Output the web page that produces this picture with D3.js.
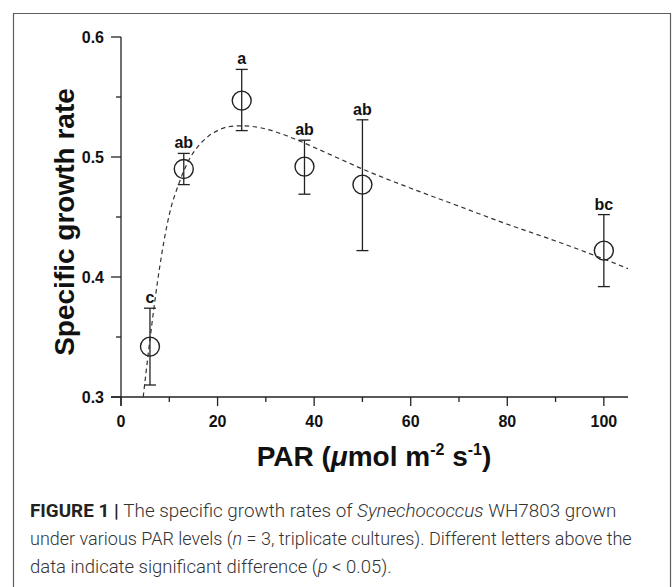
<!DOCTYPE html>
<html>
<head>
<meta charset="utf-8">
<script src="https://cdn.jsdelivr.net/npm/d3@7"></script>
<style>
  body { margin: 0; background: #fff; }
  svg { display: block; }
</style>
</head>
<body>
<div id="chart"></div>
<script>
// data
const parLevels = [6, 13, 25, 38, 50, 100];
const rateMean = [0.342, 0.490, 0.547, 0.492, 0.477, 0.422];
const rateHigh = [0.374, 0.503, 0.573, 0.514, 0.531, 0.452];
const rateLow = [0.310, 0.477, 0.522, 0.469, 0.422, 0.392];
const groupLetters = ['c', 'ab', 'a', 'ab', 'ab', 'bc'];

// fitted curve
const fitPar = [4.6, 6, 8, 10, 12, 14, 16, 18, 20, 22, 25, 28, 32, 36, 40, 45, 50, 60, 70, 80, 90, 100, 105];
const fitRate = [0.300, 0.348, 0.408, 0.452, 0.478, 0.497, 0.509, 0.517, 0.522, 0.525, 0.526, 0.525, 0.521, 0.515, 0.508, 0.499, 0.490, 0.474, 0.459, 0.444, 0.430, 0.415, 0.407];

const xTicks = [0, 20, 40, 60, 80, 100];
const xMinor = [10, 30, 50, 70, 90];
const yTicks = [0.3, 0.4, 0.5, 0.6];
const yMinor = [0.35, 0.45, 0.55];

const svgWidth = 672;
const svgHeight = 587;

const svg = d3.select('#chart')
    .append('svg')
    .attr('width', svgWidth)
    .attr('height', svgHeight);

// outer frame of the figure box (open at the bottom)
svg.append('path')
    .attr('d', 'M13.5,600 V13.5 H670.5 V600')
    .attr('fill', 'none')
    .attr('stroke', '#5e5e5e')
    .attr('stroke-width', 1.2);

const xScale = d3.scaleLinear()
    .domain([0, 105])
    .range([121, 628]);

const yScale = d3.scaleLinear()
    .domain([0.3, 0.6])
    .range([397, 37]);

const axisColor = '#222';
const tickFont = 'bold 16px "Liberation Sans", Arial, sans-serif';

// x axis
const xAxis = svg.append('g')
    .attr('transform', `translate(0, ${yScale(0.3)})`);
xAxis.append('line')
    .attr('x1', xScale(0) - 10).attr('x2', xScale(105))
    .attr('stroke', axisColor).attr('stroke-width', 1.3);
xAxis.selectAll('.major')
    .data(xTicks)
    .enter()
    .append('line')
    .attr('x1', d => xScale(d)).attr('x2', d => xScale(d))
    .attr('y1', 0).attr('y2', 9)
    .attr('stroke', axisColor).attr('stroke-width', 1.3);
xAxis.selectAll('.minor')
    .data(xMinor)
    .enter()
    .append('line')
    .attr('x1', d => xScale(d)).attr('x2', d => xScale(d))
    .attr('y1', 0).attr('y2', 5)
    .attr('stroke', axisColor).attr('stroke-width', 1.3);
xAxis.selectAll('text')
    .data(xTicks)
    .enter()
    .append('text')
    .attr('x', d => xScale(d))
    .attr('y', 30)
    .attr('text-anchor', 'middle')
    .style('font', tickFont)
    .attr('fill', '#111')
    .text(d => d);

// y axis
const yAxis = svg.append('g')
    .attr('transform', `translate(${xScale(0)}, 0)`);
yAxis.append('line')
    .attr('y1', yScale(0.6)).attr('y2', yScale(0.3) + 9)
    .attr('stroke', axisColor).attr('stroke-width', 1.3);
yAxis.selectAll('.major')
    .data(yTicks)
    .enter()
    .append('line')
    .attr('x1', -10).attr('x2', 0)
    .attr('y1', d => yScale(d)).attr('y2', d => yScale(d))
    .attr('stroke', axisColor).attr('stroke-width', 1.3);
yAxis.selectAll('.minor')
    .data(yMinor)
    .enter()
    .append('line')
    .attr('x1', -5).attr('x2', 0)
    .attr('y1', d => yScale(d)).attr('y2', d => yScale(d))
    .attr('stroke', axisColor).attr('stroke-width', 1.3);
yAxis.selectAll('text')
    .data(yTicks)
    .enter()
    .append('text')
    .attr('x', -17)
    .attr('y', d => yScale(d) + 6)
    .attr('text-anchor', 'end')
    .style('font', tickFont)
    .attr('fill', '#111')
    .text(d => d.toFixed(1));

// axis titles
svg.append('text')
    .attr('transform', 'translate(74, 222) rotate(-90)')
    .attr('text-anchor', 'middle')
    .style('font', 'bold 28px "Liberation Sans", Arial, sans-serif')
    .attr('fill', '#111')
    .text('Specific growth rate');

const xTitle = svg.append('text')
    .attr('x', 374)
    .attr('y', 466)
    .attr('text-anchor', 'middle')
    .style('font', 'bold 28px "Liberation Sans", Arial, sans-serif')
    .attr('fill', '#111');
xTitle.append('tspan').text('PAR (');
xTitle.append('tspan').attr('font-style', 'italic').text('\u03bc');
xTitle.append('tspan').text('mol m');
xTitle.append('tspan').attr('dy', -11).attr('font-size', 16).text('-2');
xTitle.append('tspan').attr('dy', 11).text(' s');
xTitle.append('tspan').attr('dy', -11).attr('font-size', 16).text('-1');
xTitle.append('tspan').attr('dy', 11).text(')');

// fitted dashed curve
const line = d3.line()
    .x(d => xScale(d[0]))
    .y(d => yScale(d[1]))
    .curve(d3.curveMonotoneX);

svg.append('path')
    .datum(d3.zip(fitPar, fitRate))
    .attr('d', line)
    .attr('fill', 'none')
    .attr('stroke', '#333')
    .attr('stroke-width', 1.2)
    .attr('stroke-dasharray', '4.5,3.5');

// error bars, points and letters
const points = parLevels.map((p, i) => ({
    par: p, mean: rateMean[i], high: rateHigh[i], low: rateLow[i], letter: groupLetters[i]
}));

const bars = svg.append('g');
bars.selectAll('.stem')
    .data(points)
    .enter()
    .append('line')
    .attr('x1', d => xScale(d.par)).attr('x2', d => xScale(d.par))
    .attr('y1', d => yScale(d.high)).attr('y2', d => yScale(d.low))
    .attr('stroke', axisColor).attr('stroke-width', 1.3);
['high', 'low'].forEach(k => {
    bars.selectAll('.cap-' + k)
        .data(points)
        .enter()
        .append('line')
        .attr('x1', d => xScale(d.par) - 6).attr('x2', d => xScale(d.par) + 6)
        .attr('y1', d => yScale(d[k])).attr('y2', d => yScale(d[k]))
        .attr('stroke', axisColor).attr('stroke-width', 1.3);
});

svg.selectAll('.pt')
    .data(points)
    .enter()
    .append('circle')
    .attr('cx', d => xScale(d.par))
    .attr('cy', d => yScale(d.mean))
    .attr('r', 9.5)
    .attr('fill', 'none')
    .attr('stroke', axisColor)
    .attr('stroke-width', 1.4);

svg.selectAll('.letter')
    .data(points)
    .enter()
    .append('text')
    .attr('x', d => xScale(d.par))
    .attr('y', d => yScale(d.high) - 5)
    .attr('text-anchor', 'middle')
    .style('font', tickFont)
    .attr('fill', '#111')
    .text(d => d.letter);

// caption: each line squeezed horizontally to the width it has in the figure
const cap = svg.append('g')
    .style('font-family', 'Roboto, "Liberation Sans Narrow", sans-serif')
    .style('font-size', '19px')
    .style('font-weight', 300)
    .attr('fill', '#333');

function captionLine(y, width, parts) {
    const t = cap.append('text').attr('x', 0).attr('y', 0);
    parts.forEach(p => {
        const s = t.append('tspan').text(p.text);
        if (p.bold) s.attr('font-weight', 'bold').attr('fill', '#222');
        if (p.italic) s.attr('font-style', 'italic');
    });
    const natural = t.node().getComputedTextLength();
    t.attr('transform', `translate(30, ${y}) scale(${width / natural}, 1)`);
}

captionLine(517, 587, [
    { text: 'FIGURE 1 | ', bold: true },
    { text: 'The specific growth rates of ' },
    { text: 'Synechococcus', italic: true },
    { text: ' WH7803 grown' }
]);
captionLine(545, 602, [
    { text: 'under various PAR levels (' },
    { text: 'n', italic: true },
    { text: ' = 3, triplicate cultures). Different letters above the' }
]);
captionLine(573, 362, [
    { text: 'data indicate significant difference (' },
    { text: 'p', italic: true },
    { text: ' < 0.05).' }
]);
</script>
</body>
</html>
